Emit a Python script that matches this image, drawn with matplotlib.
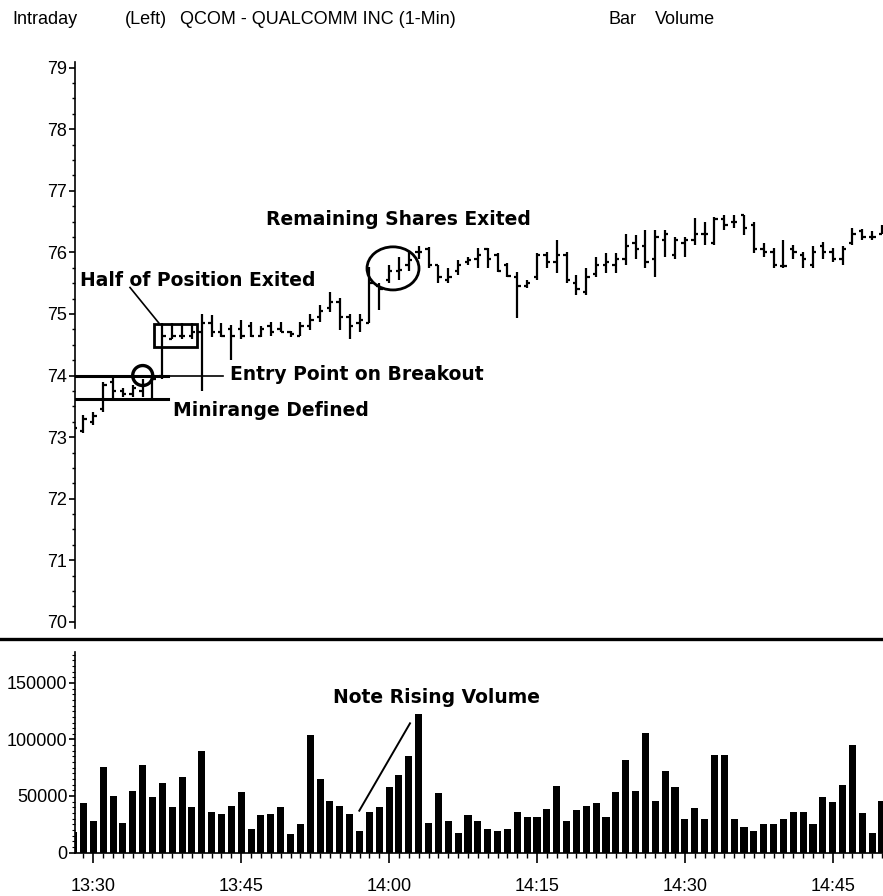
import numpy as np
import matplotlib
matplotlib.use("Agg")
import matplotlib.pyplot as plt
from matplotlib.patches import Rectangle, Ellipse
from matplotlib.lines import Line2D
from matplotlib.ticker import MultipleLocator, FixedLocator

plt.rcParams['font.family'] = ['Liberation Sans', 'DejaVu Sans']

# 1-minute bars, QCOM
times = ['13:28', '13:29', '13:30', '13:31', '13:32', '13:33', '13:34', '13:35', '13:36', '13:37',
         '13:38', '13:39', '13:40', '13:41', '13:42', '13:43', '13:44', '13:45', '13:46', '13:47',
         '13:48', '13:49', '13:50', '13:51', '13:52', '13:53', '13:54', '13:55', '13:56', '13:57',
         '13:58', '13:59', '14:00', '14:01', '14:02', '14:03', '14:04', '14:05', '14:06', '14:07',
         '14:08', '14:09', '14:10', '14:11', '14:12', '14:13', '14:14', '14:15', '14:16', '14:17',
         '14:18', '14:19', '14:20', '14:21', '14:22', '14:23', '14:24', '14:25', '14:26', '14:27',
         '14:28', '14:29', '14:30', '14:31', '14:32', '14:33', '14:34', '14:35', '14:36', '14:37',
         '14:38', '14:39', '14:40', '14:41', '14:42', '14:43', '14:44', '14:45', '14:46', '14:47',
         '14:48', '14:49', '14:50']

opens = [73.00, 73.10, 73.25, 73.45, 73.90, 73.75, 73.70, 73.75, 73.90, 74.00,
         74.60, 74.65, 74.65, 74.70, 74.85, 74.70, 74.75, 74.75, 74.80, 74.65,
         74.80, 74.75, 74.70, 74.65, 74.80, 74.95, 75.10, 75.20, 74.95, 74.85,
         74.85, 75.45, 75.55, 75.70, 75.80, 76.00, 76.05, 75.80, 75.55, 75.70,
         75.85, 75.90, 76.05, 75.95, 75.80, 75.60, 75.45, 75.60, 75.95, 75.85,
         75.95, 75.50, 75.35, 75.65, 75.80, 75.80, 75.90, 76.15, 76.10, 75.90,
         76.20, 75.95, 76.15, 76.20, 76.30, 76.15, 76.55, 76.50, 76.60, 76.45,
         76.05, 76.00, 75.78, 76.05, 75.95, 75.80, 76.10, 76.00, 75.90, 76.15,
         76.35, 76.25, 76.30]
highs = [73.20, 73.36, 73.40, 73.90, 74.00, 73.80, 73.85, 73.95, 74.00, 74.85,
         74.85, 74.85, 74.85, 75.00, 74.98, 74.85, 74.82, 74.90, 74.87, 74.80,
         74.87, 74.87, 74.72, 74.87, 75.00, 75.14, 75.36, 75.26, 75.00, 75.00,
         75.76, 75.50, 75.80, 75.92, 76.00, 76.10, 76.08, 75.80, 75.75, 75.88,
         75.93, 76.07, 76.07, 75.99, 75.83, 75.68, 75.55, 75.99, 76.00, 76.20,
         76.00, 75.63, 75.75, 75.92, 75.99, 75.99, 76.30, 76.28, 76.36, 76.36,
         76.36, 76.25, 76.25, 76.56, 76.50, 76.57, 76.60, 76.60, 76.60, 76.49,
         76.15, 76.07, 76.20, 76.12, 76.00, 76.10, 76.17, 76.07, 76.10, 76.40,
         76.38, 76.35, 76.45]
lows = [72.98, 73.07, 73.20, 73.40, 73.60, 73.65, 73.65, 73.65, 73.60, 73.95,
        74.60, 74.60, 74.60, 73.75, 74.63, 74.63, 74.25, 74.60, 74.63, 74.63,
        74.65, 74.70, 74.63, 74.65, 74.74, 74.87, 75.03, 74.74, 74.60, 74.70,
        74.85, 75.07, 75.50, 75.55, 75.70, 75.90, 75.75, 75.50, 75.50, 75.63,
        75.80, 75.75, 75.75, 75.68, 75.60, 74.94, 75.42, 75.55, 75.75, 75.67,
        75.50, 75.30, 75.30, 75.60, 75.67, 75.67, 75.80, 75.90, 75.75, 75.60,
        75.92, 75.90, 75.92, 76.12, 76.12, 76.12, 76.36, 76.40, 76.28, 75.99,
        75.92, 75.75, 75.75, 75.90, 75.75, 75.75, 75.90, 75.85, 75.80, 76.12,
        76.20, 76.20, 76.30]
closes = [73.15, 73.30, 73.35, 73.85, 73.75, 73.70, 73.80, 73.85, 73.95, 74.65,
          74.65, 74.65, 74.70, 74.85, 74.70, 74.65, 74.65, 74.65, 74.65, 74.75,
          74.70, 74.70, 74.68, 74.80, 74.90, 75.05, 75.20, 74.95, 74.80, 74.90,
          75.50, 75.40, 75.70, 75.72, 75.88, 76.00, 75.80, 75.60, 75.60, 75.80,
          75.88, 75.95, 75.90, 75.70, 75.62, 75.45, 75.50, 75.95, 75.85, 75.95,
          75.55, 75.40, 75.60, 75.80, 75.85, 75.90, 76.10, 76.05, 75.85, 76.25,
          76.30, 76.20, 76.20, 76.30, 76.30, 76.55, 76.45, 76.50, 76.40, 76.05,
          76.00, 75.80, 75.78, 76.00, 75.90, 76.00, 76.00, 75.90, 76.05, 76.30,
          76.25, 76.25, 76.35]
volume = [18000, 44000, 27600, 76000, 49700, 26000, 54700, 77000, 49000, 61500,
          40000, 66800, 40000, 89700, 35600, 34000, 41500, 53500, 21000, 33000,
          34400, 40000, 16000, 25600, 104000, 65000, 46000, 41500, 34000, 19000,
          36000, 40000, 58000, 68500, 85000, 122500, 26000, 52500, 27500, 17500,
          33000, 27500, 21000, 19000, 21000, 36000, 31000, 31000, 38500, 58500,
          27500, 38000, 41500, 44000, 31000, 53500, 82000, 54700, 105500, 46000,
          72000, 58000, 30000, 39000, 30000, 86500, 86500, 30000, 22500, 19000,
          25500, 25500, 30000, 36000, 36000, 25500, 49000, 44500, 60000, 95500,
          35300, 17500, 46000]

time_labels = ['13:30', '13:45', '14:00', '14:15', '14:30', '14:45']


def minutes(t):
    h, m = t.split(':')
    return int(h) * 60 + int(m) - 13 * 60 - 30


x = np.array([minutes(t) for t in times])

W, H = 883, 896


def box(x0, y0, x1, y1):
    # pixel box (top-left origin) -> figure fractions
    return [x0 / W, 1 - y1 / H, (x1 - x0) / W, (y1 - y0) / H]


fig = plt.figure(figsize=(W / 100, H / 100), dpi=100)
ax = fig.add_axes(box(75, 61.5, 883, 628))
axv = fig.add_axes(box(75, 652, 883, 852.5))
xlim = (-1.86, 80.1)

# price bars
ax.vlines(x, lows, highs, color='black', lw=1.6)
ax.hlines(opens, x - 0.34, x, color='black', lw=1.6)
ax.hlines(closes, x, x + 0.34, color='black', lw=1.6)
ax.set_xlim(*xlim)
ax.set_ylim(69.9, 79.1)
for s in ['top', 'right', 'bottom']:
    ax.spines[s].set_visible(False)
ax.spines['left'].set_linewidth(1.2)
ax.set_xticks([])
ax.yaxis.set_major_locator(MultipleLocator(1))
ax.yaxis.set_minor_locator(MultipleLocator(0.25))
ax.tick_params(axis='y', which='major', length=4.5, width=1.2, labelsize=13, pad=1)
ax.tick_params(axis='y', which='minor', length=2.5, width=1)

# annotations on price panel
bold = dict(fontsize=13.5, fontweight='bold', family='DejaVu Sans', va='center')


def px2m(px):
    return xlim[0] + (px - 75) / (883 - 75) * (xlim[1] - xlim[0])


ax.text(px2m(266), 76.53, 'Remaining Shares Exited', **bold)
ax.text(px2m(80), 75.55, 'Half of Position Exited', **bold)
ax.text(px2m(230), 74.01, 'Entry Point on Breakout', **bold)
ax.text(px2m(173), 73.44, 'Minirange Defined', **bold)

ax.add_patch(Ellipse((px2m(393), 75.74), 52 / 9.858, 0.70, fill=False, lw=2, color='black'))
ax.add_patch(Ellipse((px2m(142.7), 74.0), 20 / 9.858, 20 / 61.6, fill=False, lw=2.4, color='black'))
ax.add_patch(Rectangle((px2m(154), 74.46), (196.7 - 154) / 9.858, 0.38, fill=False, lw=2, color='black'))
ax.plot([px2m(130), px2m(159)], [75.43, 74.85], color='black', lw=1.2)
ax.plot([xlim[0], px2m(168)], [74.0, 74.0], color='black', lw=2.2)
ax.plot([px2m(168), px2m(223)], [74.0, 74.0], color='black', lw=1.2)
ax.plot([xlim[0], px2m(168)], [73.62, 73.62], color='black', lw=2.2)

# volume bars
axv.bar(x, volume, width=0.72, color='black')
axv.set_xlim(*xlim)
axv.set_ylim(0, 177400)
for s in ['top', 'right']:
    axv.spines[s].set_visible(False)
axv.spines['left'].set_linewidth(1.2)
axv.spines['bottom'].set_linewidth(1.2)
axv.yaxis.set_major_locator(MultipleLocator(50000))
axv.yaxis.set_minor_locator(MultipleLocator(5000))
axv.xaxis.set_major_locator(FixedLocator([minutes(t) for t in time_labels]))
axv.set_xticklabels(time_labels)
axv.xaxis.set_minor_locator(MultipleLocator(1))
axv.tick_params(axis='y', which='major', length=4.5, width=1.2, labelsize=13, pad=1)
axv.tick_params(axis='y', which='minor', length=2.2, width=0.8)
axv.tick_params(axis='x', which='major', length=7.5, width=1.2, labelsize=13, pad=11)
axv.tick_params(axis='x', which='minor', length=3.5, width=1)

axv.text(px2m(333), 137200, 'Note Rising Volume', **bold)
axv.plot([px2m(359.3), px2m(410)], [37000, 114300], color='black', lw=1.4)

# separator between panels
fig.add_artist(Line2D([0, 1], [1 - 639 / H, 1 - 639 / H], color='black', lw=2.4,
                      transform=fig.transFigure))

# header
hdr = dict(fontsize=13, va='center', transform=fig.transFigure)
fig.text(12 / W, 1 - 20 / H, 'Intraday', **hdr)
fig.text(125 / W, 1 - 20 / H, '(Left)', **hdr)
fig.text(180 / W, 1 - 20 / H, 'QCOM - QUALCOMM INC (1-Min)', **hdr)
fig.text(608 / W, 1 - 20 / H, 'Bar', **hdr)
fig.text(655 / W, 1 - 20 / H, 'Volume', **hdr)

fig.savefig('out.png', dpi=100)
